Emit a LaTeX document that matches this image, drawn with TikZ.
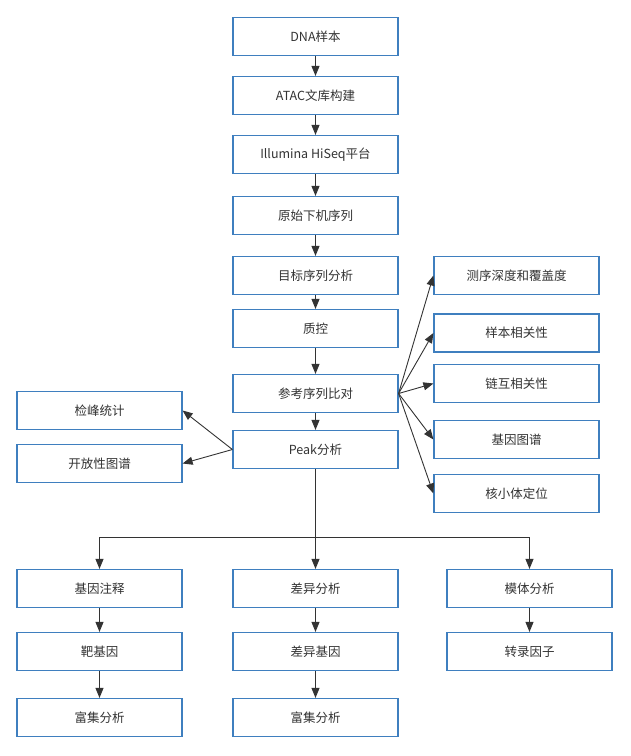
\documentclass[tikz,border=0pt]{standalone}
\usepackage{fontspec}
\setmainfont{Noto Sans CJK SC}
\usetikzlibrary{arrows.meta}
\definecolor{boxblue}{HTML}{3F7FBF}
\definecolor{txt}{HTML}{333333}
\definecolor{ln}{HTML}{333333}
\begin{document}
\begin{tikzpicture}[x=1pt,y=-1pt,
  box/.style={draw=boxblue,line width=1.2pt,fill=white,minimum width=165pt,minimum height=38pt,inner sep=0pt,text=txt,font=\fontsize{12.5}{15}\selectfont},
  arr/.style={draw=ln,line width=0.9pt,-{Triangle[length=10pt,width=8pt]}},
  ln/.style={draw=ln,line width=0.9pt}]
\useasboundingbox (0,0) rectangle (631,756);
\fill[white] (0,0) rectangle (631,756);
% main column
\node[box] (a1) at (315.5,36.5) {DNA样本};
\node[box] (a2) at (315.5,95.5) {ATAC文库构建};
\node[box] (a3) at (315.5,154.5) {Illumina HiSeq平台};
\node[box] (a4) at (315.5,215.5) {原始下机序列};
\node[box] (a5) at (315.5,275.5) {目标序列分析};
\node[box] (a6) at (315.5,328.5) {质控};
\node[box] (a7) at (315.5,393.5) {参考序列比对};
\node[box] (a8) at (315.5,449.5) {Peak分析};
% right column
\node[box] (r1) at (516.5,275.5) {测序深度和覆盖度};
\node[box] (r2) at (516.5,333) {样本相关性};
\node[box] (r3) at (516.5,383.5) {链互相关性};
\node[box] (r4) at (516.5,439.5) {基因图谱};
\node[box] (r5) at (516.5,493.5) {核小体定位};
% left column
\node[box] (l1) at (99.5,410.5) {检峰统计};
\node[box] (l2) at (99.5,463.5) {开放性图谱};
% bottom
\node[box] (b1) at (99.5,588.5) {基因注释};
\node[box] (b2) at (99.5,651.5) {靶基因};
\node[box] (b3) at (99.5,717.5) {富集分析};
\node[box] (c1) at (315.5,588.5) {差异分析};
\node[box] (c2) at (315.5,651.5) {差异基因};
\node[box] (c3) at (315.5,717.5) {富集分析};
\node[box] (d1) at (529.5,588.5) {模体分析};
\node[box] (d2) at (529.5,651.5) {转录因子};
% main arrows
\foreach \u/\v in {a1/a2,a2/a3,a3/a4,a4/a5,a5/a6,a6/a7,a7/a8,b1/b2,b2/b3,c1/c2,c2/c3,d1/d2}
  \draw[arr] (\u.south) -- (\v.north);
% fan out right
\foreach \v in {r1,r2,r3,r4,r5}
  \draw[arr] (a7.east) -- (\v.west);
% fan out left
\draw[arr] (a8.west) -- (l1.east);
\draw[arr] (a8.west) -- (l2.east);
% branch
\coordinate (j) at (315.5,537);
\draw[ln] (a8.south) -- (j);
\draw[arr] (j) -| (b1.north);
\draw[arr] (j) -| (d1.north);
\draw[arr] (j) -- (c1.north);
\end{tikzpicture}
\end{document}
